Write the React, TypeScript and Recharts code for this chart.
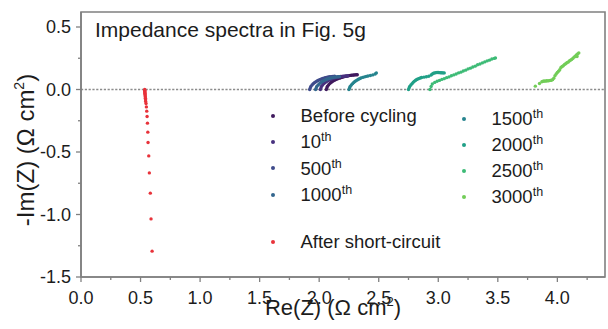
import React from "react";
import { ScatterChart, Scatter, XAxis, YAxis, ReferenceLine, ReferenceArea, Legend } from "recharts";

const FONT = '"Liberation Sans", Arial, Helvetica, sans-serif';
const GREY = "#808080";
const INK = "#1c1c1c";
const TICK_SIZE = 6;
const TICK_MARGIN = 2;

const X_TICKS = [0, 0.25, 0.5, 0.75, 1, 1.25, 1.5, 1.75, 2, 2.25, 2.5, 2.75, 3, 3.25, 3.5, 3.75, 4, 4.25];
const Y_TICKS = [-1.5, -1.25, -1, -0.75, -0.5, -0.25, 0, 0.25, 0.5];
const X_DOMAIN: [number, number] = [0, 4.4];
const Y_DOMAIN: [number, number] = [-1.5, 0.62];

// [Re(Z), -Im(Z)]
const beforeCycling: [number, number][] = [
  [2.06, 0.0], [2.065, 0.014], [2.07, 0.027], [2.08, 0.039], [2.09, 0.049], [2.1, 0.057], [2.11, 0.064],
  [2.12, 0.07], [2.13, 0.075], [2.14, 0.08], [2.15, 0.084], [2.16, 0.088], [2.17, 0.091], [2.18, 0.094],
  [2.19, 0.097], [2.2, 0.1], [2.21, 0.103], [2.22, 0.105], [2.23, 0.107], [2.24, 0.109], [2.25, 0.111],
  [2.26, 0.113], [2.27, 0.114], [2.28, 0.115], [2.29, 0.116], [2.3, 0.117], [2.31, 0.118], [2.32, 0.118],
];
const cycle10: [number, number][] = [
  [2.01, 0.0], [2.015, 0.013], [2.02, 0.026], [2.03, 0.038], [2.04, 0.048], [2.05, 0.056], [2.06, 0.063],
  [2.07, 0.069], [2.08, 0.074], [2.09, 0.079], [2.1, 0.083], [2.11, 0.087], [2.12, 0.09], [2.13, 0.093],
  [2.14, 0.096], [2.15, 0.098], [2.16, 0.1], [2.17, 0.102], [2.18, 0.104], [2.19, 0.105], [2.2, 0.106],
  [2.21, 0.107], [2.22, 0.108], [2.23, 0.108], [2.24, 0.109],
];
const cycle500: [number, number][] = [
  [1.92, 0.0], [1.925, 0.012], [1.93, 0.024], [1.94, 0.036], [1.95, 0.046], [1.96, 0.054], [1.97, 0.061],
  [1.98, 0.067], [1.99, 0.072], [2.0, 0.077], [2.01, 0.081], [2.02, 0.085], [2.03, 0.088], [2.04, 0.091],
  [2.05, 0.094], [2.06, 0.096], [2.07, 0.098], [2.08, 0.1], [2.09, 0.102], [2.1, 0.103], [2.11, 0.104],
  [2.12, 0.105], [2.13, 0.106],
];
const cycle1000: [number, number][] = [
  [1.97, 0.0], [1.975, 0.012], [1.98, 0.024], [1.99, 0.035], [2.0, 0.045], [2.01, 0.053], [2.02, 0.06],
  [2.03, 0.066], [2.04, 0.071], [2.05, 0.076], [2.06, 0.08], [2.07, 0.084], [2.08, 0.087], [2.09, 0.09],
  [2.1, 0.093], [2.11, 0.095], [2.12, 0.097], [2.13, 0.099], [2.14, 0.1], [2.15, 0.101], [2.16, 0.102],
  [2.17, 0.103],
];
const cycle1500: [number, number][] = [
  [2.25, 0.0], [2.255, 0.012], [2.26, 0.024], [2.27, 0.036], [2.28, 0.047], [2.29, 0.056], [2.3, 0.064],
  [2.31, 0.071], [2.32, 0.077], [2.33, 0.082], [2.34, 0.087], [2.35, 0.092], [2.365, 0.097], [2.38, 0.101],
  [2.395, 0.105], [2.41, 0.108], [2.43, 0.112], [2.45, 0.117], [2.47, 0.124], [2.48, 0.133],
];
const cycle2000: [number, number][] = [
  [2.75, 0.0], [2.755, 0.012], [2.76, 0.024], [2.77, 0.036], [2.78, 0.047], [2.79, 0.058], [2.8, 0.067],
  [2.81, 0.074], [2.82, 0.08], [2.83, 0.085], [2.84, 0.089], [2.85, 0.093], [2.86, 0.096], [2.88, 0.099],
  [2.9, 0.102], [2.92, 0.106], [2.94, 0.116], [2.95, 0.124], [2.96, 0.13], [2.97, 0.133], [2.98, 0.135],
  [2.99, 0.136], [3.0, 0.136], [3.01, 0.135], [3.02, 0.134], [3.03, 0.134], [3.04, 0.133], [3.05, 0.133],
];
const cycle2500: [number, number][] = [
  [2.93, 0.0], [2.94, 0.024], [2.95, 0.044], [2.97, 0.057], [2.99, 0.066], [3.01, 0.073], [3.03, 0.081],
  [3.05, 0.087], [3.07, 0.095], [3.09, 0.101], [3.11, 0.11], [3.13, 0.117], [3.15, 0.124], [3.17, 0.133],
  [3.19, 0.139], [3.21, 0.148], [3.23, 0.155], [3.25, 0.165], [3.27, 0.171], [3.29, 0.18], [3.31, 0.187],
  [3.33, 0.198], [3.35, 0.204], [3.37, 0.213], [3.39, 0.221], [3.41, 0.229], [3.43, 0.235], [3.45, 0.244],
  [3.47, 0.249], [3.48, 0.253],
];
const cycle3000: [number, number][] = [
  [3.815, 0.027], [3.85, 0.048], [3.87, 0.062], [3.88, 0.066], [3.89, 0.068], [3.9, 0.067], [3.91, 0.07],
  [3.92, 0.069], [3.93, 0.071], [3.94, 0.073], [3.95, 0.074], [3.96, 0.079], [3.97, 0.09], [3.98, 0.11],
  [3.99, 0.124], [4.0, 0.136], [4.01, 0.147], [4.02, 0.158], [4.03, 0.176], [4.04, 0.184], [4.05, 0.19],
  [4.06, 0.201], [4.07, 0.206], [4.08, 0.214], [4.09, 0.219], [4.1, 0.229], [4.11, 0.234], [4.12, 0.241],
  [4.13, 0.249], [4.14, 0.259], [4.15, 0.266], [4.16, 0.276], [4.17, 0.284], [4.18, 0.293], [4.165, 0.264],
];
const afterShort: [number, number][] = [
  [0.535, 0.0], [0.535, -0.006], [0.536, -0.012], [0.536, -0.018], [0.537, -0.025], [0.537, -0.032],
  [0.538, -0.04], [0.539, -0.049], [0.54, -0.059], [0.541, -0.07], [0.542, -0.082], [0.543, -0.095],
  [0.546, -0.112], [0.549, -0.139], [0.552, -0.173], [0.555, -0.216], [0.558, -0.269], [0.561, -0.341],
  [0.563, -0.424], [0.569, -0.531], [0.574, -0.667], [0.582, -0.829], [0.588, -1.035], [0.597, -1.293],
];

const SERIES = [
  { name: "Before cycling", color: "#401a5e", points: beforeCycling },
  { name: "10th", color: "#48317f", points: cycle10 },
  { name: "500th", color: "#3f4b8b", points: cycle500 },
  { name: "1000th", color: "#33668e", points: cycle1000 },
  { name: "1500th", color: "#26848e", points: cycle1500 },
  { name: "2000th", color: "#20a087", points: cycle2000 },
  { name: "2500th", color: "#3dbb76", points: cycle2500 },
  { name: "3000th", color: "#72cd58", points: cycle3000 },
  { name: "After short-circuit", color: "#e8323a", points: afterShort },
];

const isMajor = (v: number) => Math.abs(v * 2 - Math.round(v * 2)) < 1e-6;

// tick props arrive offset by tickSize + tickMargin from the axis line
const XTick = (props: any) => {
  const { x, y, payload } = props;
  const axisY = y - TICK_SIZE - TICK_MARGIN;
  const major = isMajor(payload.value);
  return (
    <g>
      <line x1={x} x2={x} y1={axisY} y2={axisY + (major ? 5 : 3)} stroke={GREY} strokeWidth={1.3} />
      {major && (
        <text x={x} y={axisY + 26.5} textAnchor="middle" fontSize={18} fill={INK} fontFamily={FONT}>
          {payload.value.toFixed(1)}
        </text>
      )}
    </g>
  );
};

const YTick = (props: any) => {
  const { x, y, payload } = props;
  const axisX = x + TICK_SIZE + TICK_MARGIN;
  const major = isMajor(payload.value);
  return (
    <g>
      <line x1={axisX} x2={axisX - (major ? 5 : 3)} y1={y} y2={y} stroke={GREY} strokeWidth={1.3} />
      {major && (
        <text x={axisX - 10} y={y} dy="0.36em" textAnchor="end" fontSize={18} fill={INK} fontFamily={FONT}>
          {payload.value.toFixed(1)}
        </text>
      )}
    </g>
  );
};

const renderName = (name: string) => {
  const m = /^(\d+)th$/.exec(name);
  if (!m) return name;
  return (
    <>
      {m[1]}
      <span style={{ fontSize: 12.5, position: "relative", top: -7 }}>th</span>
    </>
  );
};

const LegendBox = (props: any) => {
  const payload = props.payload || [];
  return (
    <div style={{ position: "relative", width: 608, height: 329, fontFamily: FONT }}>
      {SERIES.map((s, i) => {
        const entry = payload.find((p: any) => p.value === s.name);
        const color = (entry && entry.color) || s.color;
        let dotX = 273;
        let textX = 300.5;
        let cy = 116 + i * 26.2;
        if (i >= 4 && i < 8) {
          dotX = 463.5;
          textX = 491.5;
          cy = 118.5 + (i - 4) * 26.2;
        } else if (i === 8) {
          cy = 241.7;
        }
        return (
          <React.Fragment key={s.name}>
            <div
              style={{
                position: "absolute", left: dotX - 2, top: cy - 2, width: 4, height: 4,
                borderRadius: 2, background: color,
              }}
            />
            <div
              style={{
                position: "absolute", left: textX, top: cy - 9.8, lineHeight: "20px",
                fontSize: 18.5, color: INK, whiteSpace: "nowrap",
              }}
            >
              {renderName(s.name)}
            </div>
          </React.Fragment>
        );
      })}
    </div>
  );
};

export default function App() {
  return (
    <div style={{ position: "absolute", left: 0, top: 0, width: 608, height: 329, background: "#fff", fontFamily: FONT }}>
      <ScatterChart width={608} height={329} margin={{ top: 12, right: 3, bottom: 0, left: 0 }}>
        <XAxis
          type="number"
          dataKey="re"
          domain={X_DOMAIN}
          ticks={X_TICKS}
          interval={0}
          allowDataOverflow
          height={52}
          tickSize={TICK_SIZE}
          tickMargin={TICK_MARGIN}
          tickLine={false}
          axisLine={{ stroke: GREY, strokeWidth: 1.6 }}
          tick={<XTick />}
        />
        <YAxis
          type="number"
          dataKey="im"
          domain={Y_DOMAIN}
          ticks={Y_TICKS}
          interval={0}
          allowDataOverflow
          width={81}
          tickSize={TICK_SIZE}
          tickMargin={TICK_MARGIN}
          tickLine={false}
          axisLine={{ stroke: GREY, strokeWidth: 1.6 }}
          tick={<YTick />}
        />
        <ReferenceArea
          x1={X_DOMAIN[0]}
          x2={X_DOMAIN[1]}
          y1={Y_DOMAIN[0]}
          y2={Y_DOMAIN[1]}
          fill="none"
          fillOpacity={0}
          stroke={GREY}
          strokeWidth={1.6}
        />
        <ReferenceLine y={0} stroke="#8c8c8c" strokeWidth={1.3} strokeDasharray="2.2 1.6" />
        {SERIES.map((s) => (
          <Scatter
            key={s.name}
            name={s.name}
            data={s.points.map(([re, im]) => ({ re, im }))}
            fill={s.color}
            isAnimationActive={false}
            shape={(p: any) => <circle cx={p.cx} cy={p.cy} r={1.7} fill={s.color} />}
          />
        ))}
        <Legend
          layout="horizontal"
          verticalAlign="middle"
          align="center"
          content={<LegendBox />}
          wrapperStyle={{ left: 0, top: 0, width: 608, height: 329, pointerEvents: "none" }}
        />
      </ScatterChart>
      <div
        style={{
          position: "absolute", left: 95, top: 19, fontSize: 21, lineHeight: "21px",
          color: INK, whiteSpace: "nowrap",
        }}
      >
        Impedance spectra in Fig. 5g
      </div>
      <svg
        width={608}
        height={329}
        style={{ position: "absolute", left: 0, top: 0, pointerEvents: "none" }}
      >
        <text x={333} y={315} textAnchor="middle" fontSize={22} fill={INK} fontFamily={FONT}>
          Re(Z) (Ω cm<tspan fontSize={13} dy={-9}>2</tspan><tspan dy={9}>)</tspan>
        </text>
        <text transform="translate(34,150) rotate(-90)" textAnchor="middle" fontSize={24} fill={INK} fontFamily={FONT}>
          -Im(Z) (Ω cm<tspan fontSize={14} dy={-10}>2</tspan><tspan dy={10}>)</tspan>
        </text>
      </svg>
    </div>
  );
}
